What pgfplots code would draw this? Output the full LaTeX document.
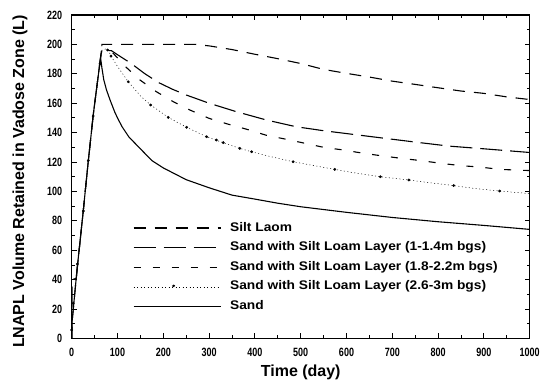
\documentclass[border=0pt]{standalone}
\usepackage{pgfplots}
\pgfplotsset{compat=1.18}
\usepackage{fontspec}
\setmainfont{Liberation Sans}
\newfontfamily\tickfont[FakeStretch=0.75]{Liberation Sans Bold}
\newfontfamily\legfont[FakeStretch=1.1]{Liberation Sans Bold}
\newfontfamily\labfont{Liberation Sans Bold}

\begin{document}
\begin{tikzpicture}
\begin{axis}[
  name=ax,
  scale only axis,
  width=458pt, height=323.5pt,
  xmin=0, xmax=1000, ymin=0, ymax=220,
  xtick={0,100,...,1000},
  ytick={0,20,...,220},
  minor x tick num=1,
  minor y tick num=1,
  tick align=inside,
  major tick length=5pt,
  minor tick length=3pt,
  every tick/.style={black, line width=0.9pt},
  axis line style={line width=1.2pt},
  /pgf/number format/assume math mode=true,
  /pgf/number format/.cd, 1000 sep={}, /pgfplots/.cd,
  ticklabel style={font=\tickfont\fontsize{12}{12}\selectfont},
  xticklabel style={anchor=north, yshift=-6pt},
  yticklabel style={anchor=east, xshift=-6pt},
  xlabel={Time (day)},
  ylabel={LNAPL Volume Retained in Vadose Zone (L)},
  label style={font=\labfont\fontsize{16}{16}\selectfont},
  xlabel style={at={(rel axis cs:0.5,0)}, anchor=center, yshift=-33.5pt},
  ylabel style={at={(rel axis cs:0,0.5)}, anchor=center, yshift=51.7pt, xshift=-4.7pt},
  legend style={at={(0.134,0.360)}, anchor=north west, draw=none, fill=none,
    inner sep=0pt, outer sep=0pt, row sep=7.6pt, column sep=9pt,
    font=\legfont\fontsize{12.5}{12.5}\selectfont,
    nodes={inner sep=0pt, text height=9pt, text depth=3pt}},
  legend cell align=left,
  legend image code/.code={\draw[#1] (0pt,0pt) -- (87pt,0pt);},
]
% Silt Laom
\addplot[black, line width=1.1pt, dash pattern=on 12pt off 9pt] coordinates {
(0,0) (1,12) (12,48) (25,86) (36,120) (47,152) (63,191) (65.5,198) (66,200) (100,200) (200,200) (270,200) (300,199) (350,196.5) (400,193.3) (450,190.3) (500,187) (550,183) (600,180.3) (650,177.8) (700,175) (750,172.8) (800,170.5) (850,168.3) (900,166.7) (950,164.3) (1000,162.5)
};
\addlegendentry{Silt Laom}
% 1-1.4 m
\addplot[black, line width=1.1pt, dash pattern=on 22pt off 8pt] coordinates {
(0,0) (1,40) (10,41) (25,86) (36,120) (47,152) (63,191) (65,196.2) (87,195.7) (100,193) (130,187) (160,180) (190,174) (220,169.5) (250,165.6) (300,160) (360,154.2) (425,148.6) (490,144) (550,141.3) (625,138.4) (700,135.5) (760,133.2) (825,130.8) (900,129) (1000,126.5)
};
\addlegendentry{Sand with Silt Loam Layer (1-1.4m bgs)}
% 1.8-2.2 m
\addplot[black, line width=1.1pt, dash pattern=on 7pt off 12pt] coordinates {
(63,191) (66,196) (80,196) (92,193.5) (116,185.3) (149,175.8) (185,167.8) (222,161) (258,155.4) (300,149.7) (340,145.9) (382,142.3) (425,138.2) (465,135.7) (510,132.7) (550,130) (593,128.2) (636,126) (680,124.1) (720,122.5) (764,120.9) (807,119.1) (851,117.5) (891,116.6) (935,115) (1000,114.2)
};
\addlegendentry{Sand with Silt Loam Layer (1.8-2.2m bgs)}
% 2.6-3 m
\addplot[black, line width=0.5pt, dash pattern=on 1pt off 2.5pt,
  legend image code/.code={\draw[black, line width=0.5pt, dash pattern=on 1pt off 2.5pt] (0pt,0pt) -- (87pt,0pt); \fill[black] (40pt,1pt) circle (1.3pt);}] coordinates {
(63,191) (66,196) (75,197) (80,196) (86,192) (100,185) (123.5,174.6) (150,165) (172.4,158.8) (210.8,150.4) (250.9,143.6) (294.6,137.2) (330,133.2) (367,129.3) (392.7,127) (430,124) (483.5,120.2) (530,117.5) (574.5,115) (620,112.5) (674,110) (736,107.8) (780,106) (834,104) (880,102) (934.5,100.3) (1000,98.5)
};
\addlegendentry{Sand with Silt Loam Layer (2.6-3m bgs)}
% Sand
\addplot[black, line width=1.1pt] coordinates {
(0,0) (1,12) (12,48) (25,86) (36,120) (47,152) (63,191) (66,184) (70,176) (76,169) (84,162) (94,154) (100,150) (110,144) (125,137) (150,129) (175,121) (200,116) (250,108) (300,102.5) (350,97.5) (400,94.8) (450,92) (500,89.6) (600,85.8) (700,82.3) (800,79.4) (900,76.9) (1000,74.2)
};
\addlegendentry{Sand}
% markers of 2.6-3 m series
\addplot[only marks, mark=*, mark size=1.2pt, black, forget plot] coordinates {
(0,5.8) (3.5,24) (12.3,50.7) (25.4,86.7) (36.3,121) (47,151.3) (61.7,186.7) (78.5,196.2) (85.8,192) (123.5,174.6) (172.4,158.8) (210.8,150.4) (250.9,143.6) (294.6,137.2) (316,135) (330.8,133.2) (367,129.3) (392.7,127) (483.5,120.2) (574.5,115) (674,110) (736,107.8) (834,104) (934.5,100.3)
};
\end{axis}
\pgfresetboundingbox
\path (ax.south west) ++(-71.7pt,-48.5pt) rectangle ++(545pt,387pt);
\end{tikzpicture}
\end{document}
